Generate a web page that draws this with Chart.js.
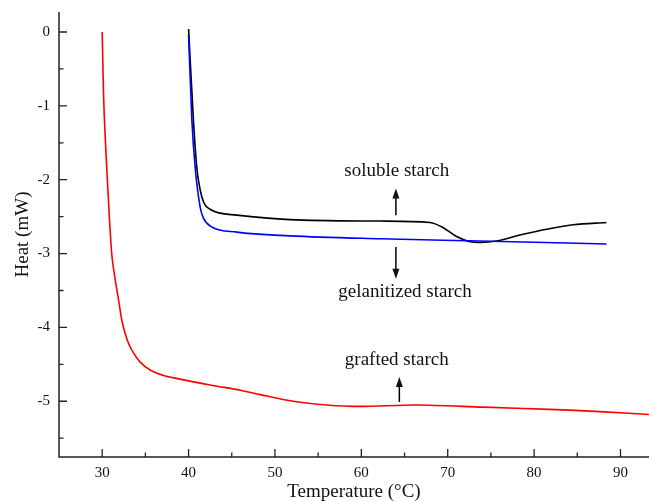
<!DOCTYPE html>
<html>
<head>
<meta charset="utf-8">
<script src="https://cdn.jsdelivr.net/npm/chart.js@4/dist/chart.umd.min.js"></script>
<style>
  html, body { margin: 0; padding: 0; background: #fff; }
  #wrap { width: 649px; height: 502px; }
</style>
</head>
<body>
<div id="wrap"><canvas id="myChart"></canvas></div>
<script>
// temperatures (°C) and heat flow (mW)
const graftedTemp = [30, 30.2, 30.6, 31.1, 31.5, 31.9, 32.3, 32.9, 33.4, 34.4, 35.6, 37.1, 38.6, 42.5, 46.0, 48.3, 52.1, 56.0, 59.8, 66.4, 74.1, 81.8, 87.6, 93.4]
const graftedHeat = [0, -1.0, -2.0, -3.0, -3.35, -3.63, -3.92, -4.17, -4.30, -4.47, -4.58, -4.65, -4.69, -4.78, -4.85, -4.91, -5.00, -5.05, -5.07, -5.05, -5.08, -5.11, -5.14, -5.18]

const solubleTemp = [40.0, 40.56, 40.95, 41.53, 42.49, 45.58, 51.75, 62.16, 67.94, 69.48, 71.03, 72.57, 73.73, 75.66, 78.35, 81.44, 84.52, 88.38]
const solubleHeat = [0.04, -1.19, -1.83, -2.23, -2.40, -2.48, -2.54, -2.56, -2.58, -2.65, -2.77, -2.84, -2.85, -2.83, -2.75, -2.67, -2.61, -2.58]

const gelTemp = [40.0, 40.38, 40.76, 41.34, 41.72, 42.69, 45.58, 51.75, 62.16, 73.73, 88.38]
const gelHeat = [-0.04, -1.19, -1.83, -2.37, -2.52, -2.64, -2.71, -2.76, -2.80, -2.83, -2.87]

const xTicks = [30, 40, 50, 60, 70, 80, 90]
const xMinorTicks = [35, 45, 55, 65, 75, 85]
const yTicks = [0, -1, -2, -3, -4, -5]
const yMinorTicks = [-0.5, -1.5, -2.5, -3.5, -4.5, -5.5]

// labels with arrows: text position, arrow start -> arrow end
const noteText = ['soluble starch', 'gelanitized starch', 'grafted starch']
const noteTextX = [64.1, 65.05, 64.1]
const noteTextY = [-1.88, -3.52, -4.44]
const noteArrowX = [64.0, 64.0, 64.4]
const noteArrowFrom = [-2.48, -2.91, -5.01]
const noteArrowTo = [-2.12, -3.34, -4.67]

function toPoints(xs, ys) {
    return xs.map((x, i) => ({ x: x, y: ys[i] }))
}

Chart.defaults.font.family = "'Liberation Serif', 'Times New Roman', serif"
Chart.defaults.color = '#111'

// axis lines, inward ticks and the arrow notes
const decorPlugin = {
    id: 'decor',
    afterDatasetsDraw(chart) {
        const ctx = chart.ctx
        const xs = chart.scales.x
        const ys = chart.scales.y
        const area = chart.chartArea
        ctx.save()
        ctx.strokeStyle = '#222'
        ctx.lineWidth = 1.5
        ctx.beginPath()
        ctx.moveTo(area.left, area.top)
        ctx.lineTo(area.left, area.bottom)
        ctx.lineTo(area.right, area.bottom)
        ctx.stroke()

        ctx.lineWidth = 1.3
        ctx.beginPath()
        xTicks.forEach(v => {
            let px = xs.getPixelForValue(v)
            ctx.moveTo(px, area.bottom)
            ctx.lineTo(px, area.bottom - 8)
        })
        xMinorTicks.forEach(v => {
            let px = xs.getPixelForValue(v)
            ctx.moveTo(px, area.bottom)
            ctx.lineTo(px, area.bottom - 4.5)
        })
        yTicks.forEach(v => {
            let py = ys.getPixelForValue(v)
            ctx.moveTo(area.left, py)
            ctx.lineTo(area.left + 8, py)
        })
        yMinorTicks.forEach(v => {
            let py = ys.getPixelForValue(v)
            ctx.moveTo(area.left, py)
            ctx.lineTo(area.left + 4.5, py)
        })
        ctx.stroke()

        ctx.fillStyle = '#111'
        ctx.font = "19px 'Liberation Serif', 'Times New Roman', serif"
        ctx.textAlign = 'center'
        ctx.textBaseline = 'middle'
        for (let i = 0; i < noteText.length; i++) {
            ctx.fillText(noteText[i], xs.getPixelForValue(noteTextX[i]), ys.getPixelForValue(noteTextY[i]))

            let ax = xs.getPixelForValue(noteArrowX[i])
            let y0 = ys.getPixelForValue(noteArrowFrom[i])
            let y1 = ys.getPixelForValue(noteArrowTo[i])
            let dir = y1 < y0 ? -1 : 1
            ctx.strokeStyle = '#000'
            ctx.lineWidth = 1.5
            ctx.beginPath()
            ctx.moveTo(ax, y0)
            ctx.lineTo(ax, y1 - dir * 8)
            ctx.stroke()
            ctx.beginPath()
            ctx.moveTo(ax, y1)
            ctx.lineTo(ax - 3.5, y1 - dir * 10)
            ctx.lineTo(ax + 3.5, y1 - dir * 10)
            ctx.closePath()
            ctx.fill()
        }
        ctx.restore()
    }
}

function noPad(s) {
    s.paddingTop = 0
    s.paddingBottom = 0
    s.paddingLeft = 0
    s.paddingRight = 0
}

let ctx = document.getElementById('myChart').getContext('2d')
let myChart = new Chart(ctx, {
    type: 'line',
    data: {
        datasets: [
            {
                label: 'grafted starch',
                data: toPoints(graftedTemp, graftedHeat),
                borderColor: '#ff0000',
                borderWidth: 1.6,
                tension: 0.3
            },
            {
                label: 'gelanitized starch',
                data: toPoints(gelTemp, gelHeat),
                borderColor: '#0000ff',
                borderWidth: 1.6,
                cubicInterpolationMode: 'monotone'
            },
            {
                label: 'soluble starch',
                data: toPoints(solubleTemp, solubleHeat),
                borderColor: '#000000',
                borderWidth: 1.6,
                cubicInterpolationMode: 'monotone'
            }
        ]
    },
    options: {
        responsive: true,
        maintainAspectRatio: false,
        animation: false,
        layout: { padding: { top: 12, right: 0, left: 0, bottom: 0 } },
        elements: { point: { radius: 0 } },
        plugins: {
            legend: { display: false },
            tooltip: { enabled: false }
        },
        scales: {
            x: {
                type: 'linear',
                min: 25,
                max: 93.3,
                grid: { display: false, drawTicks: false },
                border: { display: false },
                afterBuildTicks: s => { s.ticks = xTicks.map(v => ({ value: v })) },
                afterFit: s => { s.height = 45; noPad(s) },
                ticks: { font: { size: 15 }, padding: 7, maxRotation: 0 },
                title: {
                    display: true,
                    text: 'Temperature (°C)',
                    font: { size: 19, lineHeight: 1 },
                    padding: { top: 0, bottom: 0 }
                }
            },
            y: {
                type: 'linear',
                min: -5.755,
                max: 0.271,
                grid: { display: false, drawTicks: false },
                border: { display: false },
                afterBuildTicks: s => { s.ticks = yTicks.map(v => ({ value: v })) },
                afterFit: s => { s.width = 59; noPad(s) },
                ticks: { font: { size: 15 }, padding: 9 },
                title: {
                    display: true,
                    text: 'Heat (mW)',
                    font: { size: 19, lineHeight: 1 },
                    padding: { top: 14, bottom: 0 }
                }
            }
        }
    },
    plugins: [decorPlugin]
})
</script>
</body>
</html>
